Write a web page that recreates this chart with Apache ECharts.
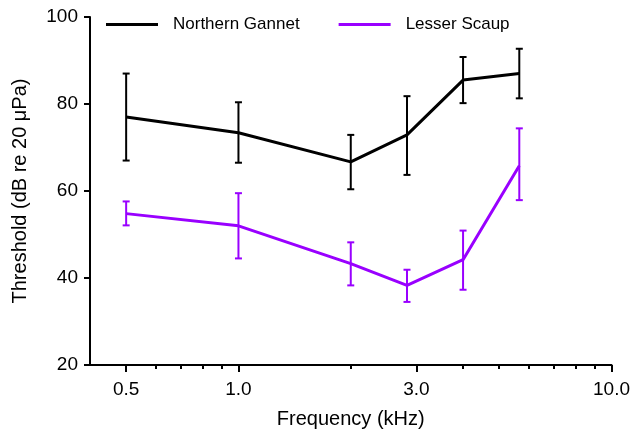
<!DOCTYPE html>
<html>
<head>
<meta charset="utf-8">
<script src="https://cdn.jsdelivr.net/npm/echarts@6/dist/echarts.min.js"></script>
<style>
  html, body { margin: 0; padding: 0; background: #fff; }
  #chart { width: 633px; height: 434px; }
</style>
</head>
<body>
<div id="chart"></div>
<script>
// frequencies (kHz)
const freqs = [0.5, 1.0, 2.0, 2.83, 4.0, 5.66];

// Northern Gannet thresholds and error ranges
const gannetMean = [77, 73.4, 66.7, 72.9, 85.5, 87];
const gannetLow = [67, 66.5, 60.4, 63.7, 80.2, 81.3];
const gannetHigh = [87, 80.4, 72.9, 81.8, 90.8, 92.7];

// Lesser Scaup thresholds and error ranges
const scaupMean = [54.8, 52, 43.3, 38.3, 44.2, 65.8];
const scaupLow = [52.1, 44.5, 38.3, 34.5, 37.3, 57.9];
const scaupHigh = [57.6, 59.5, 48.2, 41.9, 50.9, 74.4];

const xMajorTicks = [0.5, 1, 3, 10];
const xMinorTicks = [0.6, 0.7, 0.8, 0.9, 2, 4, 5, 6, 7, 8, 9];

const FONT = 'Liberation Sans, Arial, sans-serif';
const BLACK = '#000000';
const PURPLE = '#9900ff';

const chart = echarts.init(document.getElementById('chart'));

function errorBars(low, high, color) {
  return {
    type: 'custom',
    xAxisIndex: 0,
    silent: true,
    data: freqs.map((f, i) => [f, low[i], high[i]]),
    renderItem: function (params, api) {
      const top = api.coord([api.value(0), api.value(2)]);
      const bot = api.coord([api.value(0), api.value(1)]);
      const w = 3.5;
      const style = { stroke: color, lineWidth: 2 };
      return {
        type: 'group',
        children: [
          { type: 'line', shape: { x1: top[0], y1: top[1], x2: bot[0], y2: bot[1] }, style },
          { type: 'line', shape: { x1: top[0] - w, y1: top[1], x2: top[0] + w, y2: top[1] }, style },
          { type: 'line', shape: { x1: bot[0] - w, y1: bot[1], x2: bot[0] + w, y2: bot[1] }, style }
        ]
      };
    },
    z: 3
  };
}

chart.setOption({
  animation: false,
  grid: { left: 90, right: 21, top: 17, bottom: 69, containLabel: false },
  legend: {
    left: 101,
    top: 11,
    itemWidth: 52,
    itemHeight: 3,
    itemGap: 39,
    icon: 'rect',
    data: ['Northern Gannet', 'Lesser Scaup'],
    textStyle: { fontFamily: FONT, fontSize: 17, color: '#000', padding: [0, 0, 0, 10] }
  },
  xAxis: [
    {
      type: 'log',
      logBase: 10,
      min: 0.4,
      max: 10,
      name: 'Frequency (kHz)',
      nameLocation: 'middle',
      nameGap: 44,
      nameTextStyle: { fontFamily: FONT, fontSize: 20, color: '#000' },
      axisLine: { lineStyle: { color: '#000', width: 2 } },
      axisTick: { customValues: xMajorTicks, length: 7, lineStyle: { color: '#000', width: 2 } },
      axisLabel: {
        customValues: xMajorTicks,
        fontFamily: FONT,
        fontSize: 19,
        color: '#000',
        margin: 15,
        formatter: v => Number(v).toFixed(1)
      },
      splitLine: { show: false }
    },
    {
      type: 'log',
      logBase: 10,
      min: 0.4,
      max: 10,
      position: 'bottom',
      axisLine: { show: false },
      axisTick: { customValues: xMinorTicks, length: 4, lineStyle: { color: '#000', width: 2 } },
      axisLabel: { show: false },
      splitLine: { show: false }
    }
  ],
  yAxis: {
    type: 'value',
    min: 20,
    max: 100,
    interval: 20,
    name: 'Threshold (dB re 20 μPa)',
    nameLocation: 'middle',
    nameGap: 60,
    nameTextStyle: { fontFamily: FONT, fontSize: 20, color: '#000' },
    axisLine: { show: true, lineStyle: { color: '#000', width: 2 } },
    axisTick: { show: true, length: 6, lineStyle: { color: '#000', width: 2 } },
    axisLabel: { fontFamily: FONT, fontSize: 19, color: '#000', margin: 12 },
    splitLine: { show: false }
  },
  series: [
    {
      name: 'Northern Gannet',
      type: 'line',
      data: freqs.map((f, i) => [f, gannetMean[i]]),
      symbol: 'none',
      lineStyle: { color: BLACK, width: 3 },
      itemStyle: { color: BLACK },
      z: 4
    },
    {
      name: 'Lesser Scaup',
      type: 'line',
      data: freqs.map((f, i) => [f, scaupMean[i]]),
      symbol: 'none',
      lineStyle: { color: PURPLE, width: 3 },
      itemStyle: { color: PURPLE },
      z: 4
    },
    errorBars(gannetLow, gannetHigh, BLACK),
    errorBars(scaupLow, scaupHigh, PURPLE)
  ]
});
</script>
</body>
</html>
